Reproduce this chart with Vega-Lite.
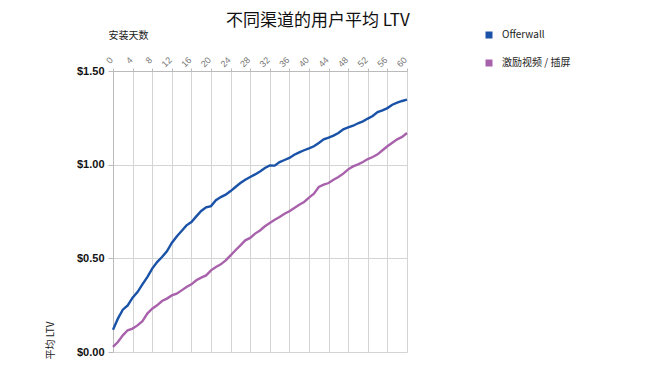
{
  "$schema": "https://vega.github.io/schema/vega-lite/v6.json",
  "autosize": "none",
  "width": 294,
  "height": 281,
  "padding": {"left": 113, "top": 71, "right": 243, "bottom": 19},
  "background": "white",
  "title": {
    "text": "不同渠道的用户平均 LTV",
    "font": "Noto Sans CJK SC",
    "fontSize": 17,
    "fontWeight": "normal",
    "color": "#111111",
    "anchor": "start",
    "dx": 181,
    "offset": 0
  },
  "datasets": {
    "ltv": [
      {"day":0,"channel":"Offerwall","ltv":0.119},{"day":1,"channel":"Offerwall","ltv":0.178},{"day":2,"channel":"Offerwall","ltv":0.226},{"day":3,"channel":"Offerwall","ltv":0.249},{"day":4,"channel":"Offerwall","ltv":0.29},{"day":5,"channel":"Offerwall","ltv":0.32},{"day":6,"channel":"Offerwall","ltv":0.361},{"day":7,"channel":"Offerwall","ltv":0.40},{"day":8,"channel":"Offerwall","ltv":0.445},{"day":9,"channel":"Offerwall","ltv":0.48},{"day":10,"channel":"Offerwall","ltv":0.507},{"day":11,"channel":"Offerwall","ltv":0.537},{"day":12,"channel":"Offerwall","ltv":0.582},{"day":13,"channel":"Offerwall","ltv":0.617},{"day":14,"channel":"Offerwall","ltv":0.646},{"day":15,"channel":"Offerwall","ltv":0.676},{"day":16,"channel":"Offerwall","ltv":0.694},{"day":17,"channel":"Offerwall","ltv":0.724},{"day":18,"channel":"Offerwall","ltv":0.753},{"day":19,"channel":"Offerwall","ltv":0.772},{"day":20,"channel":"Offerwall","ltv":0.779},{"day":21,"channel":"Offerwall","ltv":0.81},{"day":22,"channel":"Offerwall","ltv":0.827},{"day":23,"channel":"Offerwall","ltv":0.84},{"day":24,"channel":"Offerwall","ltv":0.859},{"day":25,"channel":"Offerwall","ltv":0.881},{"day":26,"channel":"Offerwall","ltv":0.902},{"day":27,"channel":"Offerwall","ltv":0.92},{"day":28,"channel":"Offerwall","ltv":0.934},{"day":29,"channel":"Offerwall","ltv":0.948},{"day":30,"channel":"Offerwall","ltv":0.964},{"day":31,"channel":"Offerwall","ltv":0.982},{"day":32,"channel":"Offerwall","ltv":0.996},{"day":33,"channel":"Offerwall","ltv":0.995},{"day":34,"channel":"Offerwall","ltv":1.014},{"day":35,"channel":"Offerwall","ltv":1.025},{"day":36,"channel":"Offerwall","ltv":1.036},{"day":37,"channel":"Offerwall","ltv":1.053},{"day":38,"channel":"Offerwall","ltv":1.066},{"day":39,"channel":"Offerwall","ltv":1.077},{"day":40,"channel":"Offerwall","ltv":1.087},{"day":41,"channel":"Offerwall","ltv":1.098},{"day":42,"channel":"Offerwall","ltv":1.116},{"day":43,"channel":"Offerwall","ltv":1.135},{"day":44,"channel":"Offerwall","ltv":1.144},{"day":45,"channel":"Offerwall","ltv":1.155},{"day":46,"channel":"Offerwall","ltv":1.169},{"day":47,"channel":"Offerwall","ltv":1.189},{"day":48,"channel":"Offerwall","ltv":1.199},{"day":49,"channel":"Offerwall","ltv":1.208},{"day":50,"channel":"Offerwall","ltv":1.221},{"day":51,"channel":"Offerwall","ltv":1.231},{"day":52,"channel":"Offerwall","ltv":1.246},{"day":53,"channel":"Offerwall","ltv":1.26},{"day":54,"channel":"Offerwall","ltv":1.281},{"day":55,"channel":"Offerwall","ltv":1.29},{"day":56,"channel":"Offerwall","ltv":1.302},{"day":57,"channel":"Offerwall","ltv":1.32},{"day":58,"channel":"Offerwall","ltv":1.331},{"day":59,"channel":"Offerwall","ltv":1.34},{"day":60,"channel":"Offerwall","ltv":1.347},
      {"day":0,"channel":"激励视频 / 插屏","ltv":0.027},{"day":1,"channel":"激励视频 / 插屏","ltv":0.053},{"day":2,"channel":"激励视频 / 插屏","ltv":0.089},{"day":3,"channel":"激励视频 / 插屏","ltv":0.116},{"day":4,"channel":"激励视频 / 插屏","ltv":0.125},{"day":5,"channel":"激励视频 / 插屏","ltv":0.142},{"day":6,"channel":"激励视频 / 插屏","ltv":0.164},{"day":7,"channel":"激励视频 / 插屏","ltv":0.205},{"day":8,"channel":"激励视频 / 插屏","ltv":0.231},{"day":9,"channel":"激励视频 / 插屏","ltv":0.249},{"day":10,"channel":"激励视频 / 插屏","ltv":0.272},{"day":11,"channel":"激励视频 / 插屏","ltv":0.285},{"day":12,"channel":"激励视频 / 插屏","ltv":0.302},{"day":13,"channel":"激励视频 / 插屏","ltv":0.311},{"day":14,"channel":"激励视频 / 插屏","ltv":0.329},{"day":15,"channel":"激励视频 / 插屏","ltv":0.347},{"day":16,"channel":"激励视频 / 插屏","ltv":0.361},{"day":17,"channel":"激励视频 / 插屏","ltv":0.383},{"day":18,"channel":"激励视频 / 插屏","ltv":0.397},{"day":19,"channel":"激励视频 / 插屏","ltv":0.409},{"day":20,"channel":"激励视频 / 插屏","ltv":0.436},{"day":21,"channel":"激励视频 / 插屏","ltv":0.454},{"day":22,"channel":"激励视频 / 插屏","ltv":0.468},{"day":23,"channel":"激励视频 / 插屏","ltv":0.489},{"day":24,"channel":"激励视频 / 插屏","ltv":0.516},{"day":25,"channel":"激励视频 / 插屏","ltv":0.543},{"day":26,"channel":"激励视频 / 插屏","ltv":0.569},{"day":27,"channel":"激励视频 / 插屏","ltv":0.596},{"day":28,"channel":"激励视频 / 插屏","ltv":0.609},{"day":29,"channel":"激励视频 / 插屏","ltv":0.632},{"day":30,"channel":"激励视频 / 插屏","ltv":0.649},{"day":31,"channel":"激励视频 / 插屏","ltv":0.671},{"day":32,"channel":"激励视频 / 插屏","ltv":0.689},{"day":33,"channel":"激励视频 / 插屏","ltv":0.706},{"day":34,"channel":"激励视频 / 插屏","ltv":0.721},{"day":35,"channel":"激励视频 / 插屏","ltv":0.738},{"day":36,"channel":"激励视频 / 插屏","ltv":0.751},{"day":37,"channel":"激励视频 / 插屏","ltv":0.769},{"day":38,"channel":"激励视频 / 插屏","ltv":0.786},{"day":39,"channel":"激励视频 / 插屏","ltv":0.801},{"day":40,"channel":"激励视频 / 插屏","ltv":0.824},{"day":41,"channel":"激励视频 / 插屏","ltv":0.845},{"day":42,"channel":"激励视频 / 插屏","ltv":0.881},{"day":43,"channel":"激励视频 / 插屏","ltv":0.893},{"day":44,"channel":"激励视频 / 插屏","ltv":0.902},{"day":45,"channel":"激励视频 / 插屏","ltv":0.92},{"day":46,"channel":"激励视频 / 插屏","ltv":0.934},{"day":47,"channel":"激励视频 / 插屏","ltv":0.952},{"day":48,"channel":"激励视频 / 插屏","ltv":0.975},{"day":49,"channel":"激励视频 / 插屏","ltv":0.991},{"day":50,"channel":"激励视频 / 插屏","ltv":1.002},{"day":51,"channel":"激励视频 / 插屏","ltv":1.014},{"day":52,"channel":"激励视频 / 插屏","ltv":1.03},{"day":53,"channel":"激励视频 / 插屏","ltv":1.041},{"day":54,"channel":"激励视频 / 插屏","ltv":1.055},{"day":55,"channel":"激励视频 / 插屏","ltv":1.077},{"day":56,"channel":"激励视频 / 插屏","ltv":1.098},{"day":57,"channel":"激励视频 / 插屏","ltv":1.117},{"day":58,"channel":"激励视频 / 插屏","ltv":1.135},{"day":59,"channel":"激励视频 / 插屏","ltv":1.148},{"day":60,"channel":"激励视频 / 插屏","ltv":1.169}
    ]
  },
  "data": {"name": "ltv"},
  "mark": {"type": "line", "strokeWidth": 2.4, "interpolate": "linear"},
  "encoding": {
    "x": {
      "field": "day",
      "type": "quantitative",
      "scale": {"domain": [0, 60], "nice": false, "zero": false},
      "axis": {
        "orient": "top",
        "values": [0,4,8,12,16,20,24,28,32,36,40,44,48,52,56,60],
        "title": "安装天数",
        "titleFont": "Noto Sans CJK SC",
        "titleFontSize": 10,
        "titleFontWeight": "normal",
        "titleColor": "#222222",
        "titleAnchor": "start",
        "titleAlign": "left",
        "titleX": -5,
        "titleY": -31,
        "labelAngle": -45,
        "labelFont": "Liberation Sans",
        "labelFontSize": 9,
        "labelColor": "#777777",
        "labelPadding": 10,
        "labelOffset": -2,
        "labelAlign": "right",
        "labelBaseline": "middle",
        "domain": true,
        "domainColor": "#bbbbbb",
        "ticks": true,
        "tickColor": "#bbbbbb",
        "tickSize": 3,
        "grid": true,
        "gridColor": "#d4d4d4",
        "gridWidth": 1
      }
    },
    "y": {
      "field": "ltv",
      "type": "quantitative",
      "scale": {"domain": [0, 1.5], "nice": false},
      "axis": {
        "values": [0, 0.5, 1, 1.5],
        "format": "$.2f",
        "title": "平均 LTV",
        "titleFont": "Noto Sans CJK SC",
        "titleFontSize": 10,
        "titleFontWeight": "normal",
        "titleColor": "#222222",
        "titleAngle": 270,
        "titleAlign": "left",
        "titleBaseline": "middle",
        "titleX": -63,
        "titleY": 288,
        "labelFont": "Liberation Sans",
        "labelFontSize": 11,
        "labelFontWeight": "bold",
        "labelColor": "#111111",
        "labelPadding": 4,
        "domain": true,
        "domainColor": "#bbbbbb",
        "ticks": true,
        "tickColor": "#bbbbbb",
        "tickSize": 5,
        "grid": true,
        "gridColor": "#d4d4d4",
        "gridWidth": 1
      }
    },
    "color": {
      "field": "channel",
      "type": "nominal",
      "scale": {"domain": ["Offerwall", "激励视频 / 插屏"], "range": ["#1a52a8", "#a862ab"]},
      "legend": {
        "title": null,
        "orient": "none",
        "legendX": 371,
        "legendY": -41,
        "symbolType": "square",
        "symbolSize": 49,
        "symbolStrokeWidth": 0,
        "labelFont": "Noto Sans CJK SC",
        "labelFontSize": 10,
        "labelColor": "#222222",
        "labelOffset": 8,
        "rowPadding": 18,
        "encode": {
          "symbols": {"update": {"fill": {"scale": "color", "field": "value"}, "fillOpacity": {"value": 1}}}
        }
      }
    }
  },
  "config": {"view": {"stroke": null}}
}
